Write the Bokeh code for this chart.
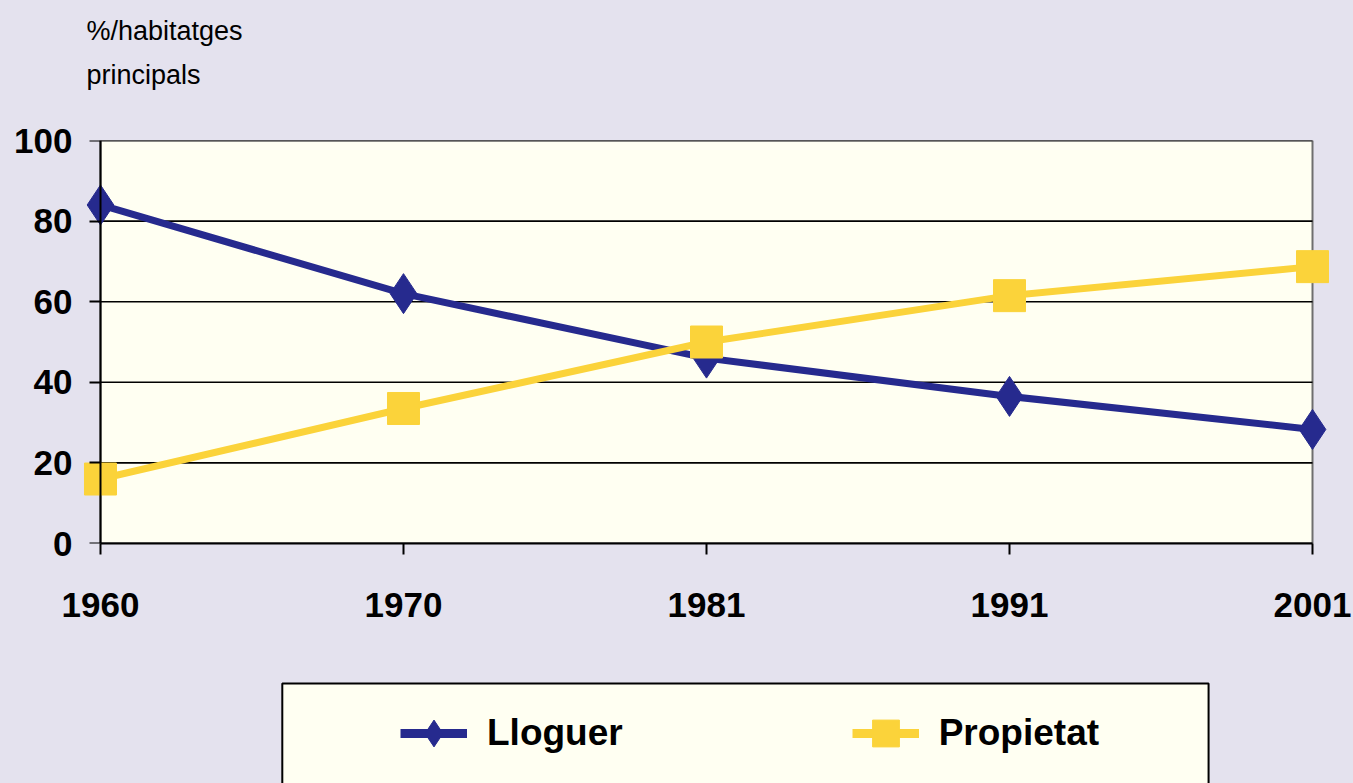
from bokeh.plotting import figure
from bokeh.layouts import column
from bokeh.models import (Range1d, FixedTicker, Legend, LegendItem, Title,
                          LinearAxis)
from bokeh.embed import file_html
from bokeh.resources import INLINE

years = ["1960", "1970", "1981", "1991", "2001"]
lloguer = [84, 62, 46, 36.5, 28.3]
propietat = [16, 33.5, 50, 61.5, 68.7]
y_ticks = [0, 20, 40, 60, 80, 100]
title_lines = ["%/habitatges", "principals"]
series_names = ["Lloguer", "Propietat"]

NAVY = "#262A8E"
YELLOW = "#FBD33A"
PLOT_BG = "#FFFFF2"
PAGE_BG = "#E4E2EE"
FONT = "Liberation Sans"

x = list(range(len(years)))
x_last = len(years) - 1
y_min, y_max = y_ticks[0], y_ticks[-1]
PAD = 0.0693  # room so edge markers are not cut by the frame


def blank(fig):
    fig.background_fill_color = PAGE_BG
    fig.border_fill_color = PAGE_BG
    fig.outline_line_color = None
    fig.grid.visible = False


# ---------------- caption strip ----------------
t = figure(width=1353, height=100, output_backend="svg", toolbar_location=None,
           x_range=Range1d(0, 1), y_range=Range1d(0, 1),
           x_axis_location=None, y_axis_location=None,
           min_border_left=0, min_border_right=0, min_border_top=95,
           min_border_bottom=0)
blank(t)
t.add_layout(Title(text=title_lines[1], align="left", offset=7,
                   standoff=12, text_font=FONT, text_font_size="27px",
                   text_font_style="normal", text_color="black"), "above")
t.add_layout(Title(text=title_lines[0], align="left", offset=7,
                   standoff=12, text_font=FONT, text_font_size="27px",
                   text_font_style="normal", text_color="black"), "above")

# ---------------- main chart ----------------
p = figure(width=1353, height=570, output_backend="svg", toolbar_location=None,
           x_range=Range1d(-PAD, x_last + PAD), y_range=Range1d(y_min, y_max),
           min_border_left=79, min_border_right=20, min_border_top=40,
           min_border_bottom=127)
blank(p)

# plot area and horizontal grid lines
p.quad(left=[0], right=[x_last], bottom=[y_min], top=[y_max],
       fill_color=PLOT_BG, line_color="#6e6e6e", line_width=2,
       level="underlay")
p.segment(x0=[0] * len(y_ticks), x1=[x_last] * len(y_ticks), y0=y_ticks,
          y1=y_ticks, line_color="black", line_width=1.6, level="underlay")

# x axis (line limited to the plot area)
xa = p.xaxis[0]
xa.ticker = FixedTicker(ticks=x)
xa.bounds = (0, x_last)
xa.major_label_overrides = {i: s for i, s in enumerate(years)}
xa.axis_line_color = "black"
xa.axis_line_width = 2
xa.major_tick_line_color = "black"
xa.major_tick_line_width = 2
xa.major_tick_out = 11
xa.major_tick_in = 0
xa.major_label_standoff = 38

# y axis labels (at frame edge)
ya = p.yaxis[0]
ya.ticker = FixedTicker(ticks=y_ticks)
ya.axis_line_color = None
ya.major_tick_line_color = None
ya.major_tick_out = 0
ya.major_tick_in = 0
ya.major_label_standoff = 7

for ax in (xa, ya):
    ax.minor_tick_line_color = None
    ax.major_label_text_font = FONT
    ax.major_label_text_font_style = "bold"
    ax.major_label_text_font_size = "35px"
    ax.major_label_text_color = "black"

# y axis line and ticks at x = first category
ya2 = LinearAxis(fixed_location=0, ticker=FixedTicker(ticks=y_ticks),
                 major_label_overrides={v: "" for v in y_ticks},
                 major_label_standoff=0, axis_line_color="black",
                 axis_line_width=2, major_tick_line_color="black",
                 major_tick_line_width=2, major_tick_out=11, major_tick_in=0,
                 minor_tick_line_color=None)
p.add_layout(ya2, "left")

p.line(x, lloguer, line_color=NAVY, line_width=7)
p.scatter(x, lloguer, marker="diamond", size=40, fill_color=NAVY,
          line_color=NAVY)
p.line(x, propietat, line_color=YELLOW, line_width=7)
p.scatter(x, propietat, marker="square", size=32, fill_color=YELLOW,
          line_color=YELLOW)

# ---------------- legend strip ----------------
q = figure(width=1353, height=113, output_backend="svg", toolbar_location=None,
           x_range=Range1d(-PAD, x_last + PAD), y_range=Range1d(0, 113),
           x_axis_location=None, y_axis_location=None,
           min_border_left=0, min_border_right=0, min_border_top=0,
           min_border_bottom=0)
blank(q)
q.quad(left=[0.6], right=[3.657], top=[100], bottom=[-20],
       fill_color=PLOT_BG, line_color="black", line_width=2)

d1 = q.line([-1], [-50], line_color=NAVY, line_width=9)
s1 = q.scatter([-1], [-50], marker="diamond", size=34, fill_color=NAVY,
               line_color=NAVY)
d2 = q.line([-1], [-50], line_color=YELLOW, line_width=9)
s2 = q.scatter([-1], [-50], marker="square", size=28, fill_color=YELLOW,
               line_color=YELLOW)

legend = Legend(items=[LegendItem(label=series_names[0], renderers=[d1, s1]),
                       LegendItem(label=series_names[1], renderers=[d2, s2])],
                orientation="horizontal", location=(321, 10),
                glyph_width=67, glyph_height=80, label_height=80,
                label_standoff=20, spacing=229, padding=0,
                label_text_font=FONT, label_text_font_style="bold",
                label_text_font_size="37px", label_text_color="black",
                border_line_alpha=0, background_fill_alpha=0)
q.add_layout(legend)

layout = column(t, p, q, spacing=0)
html = file_html(layout, INLINE)
html = html.replace("</head>",
                    "<style>html, body {background: %s;}</style></head>" % PAGE_BG, 1)
open("out.html", "w").write(html)
